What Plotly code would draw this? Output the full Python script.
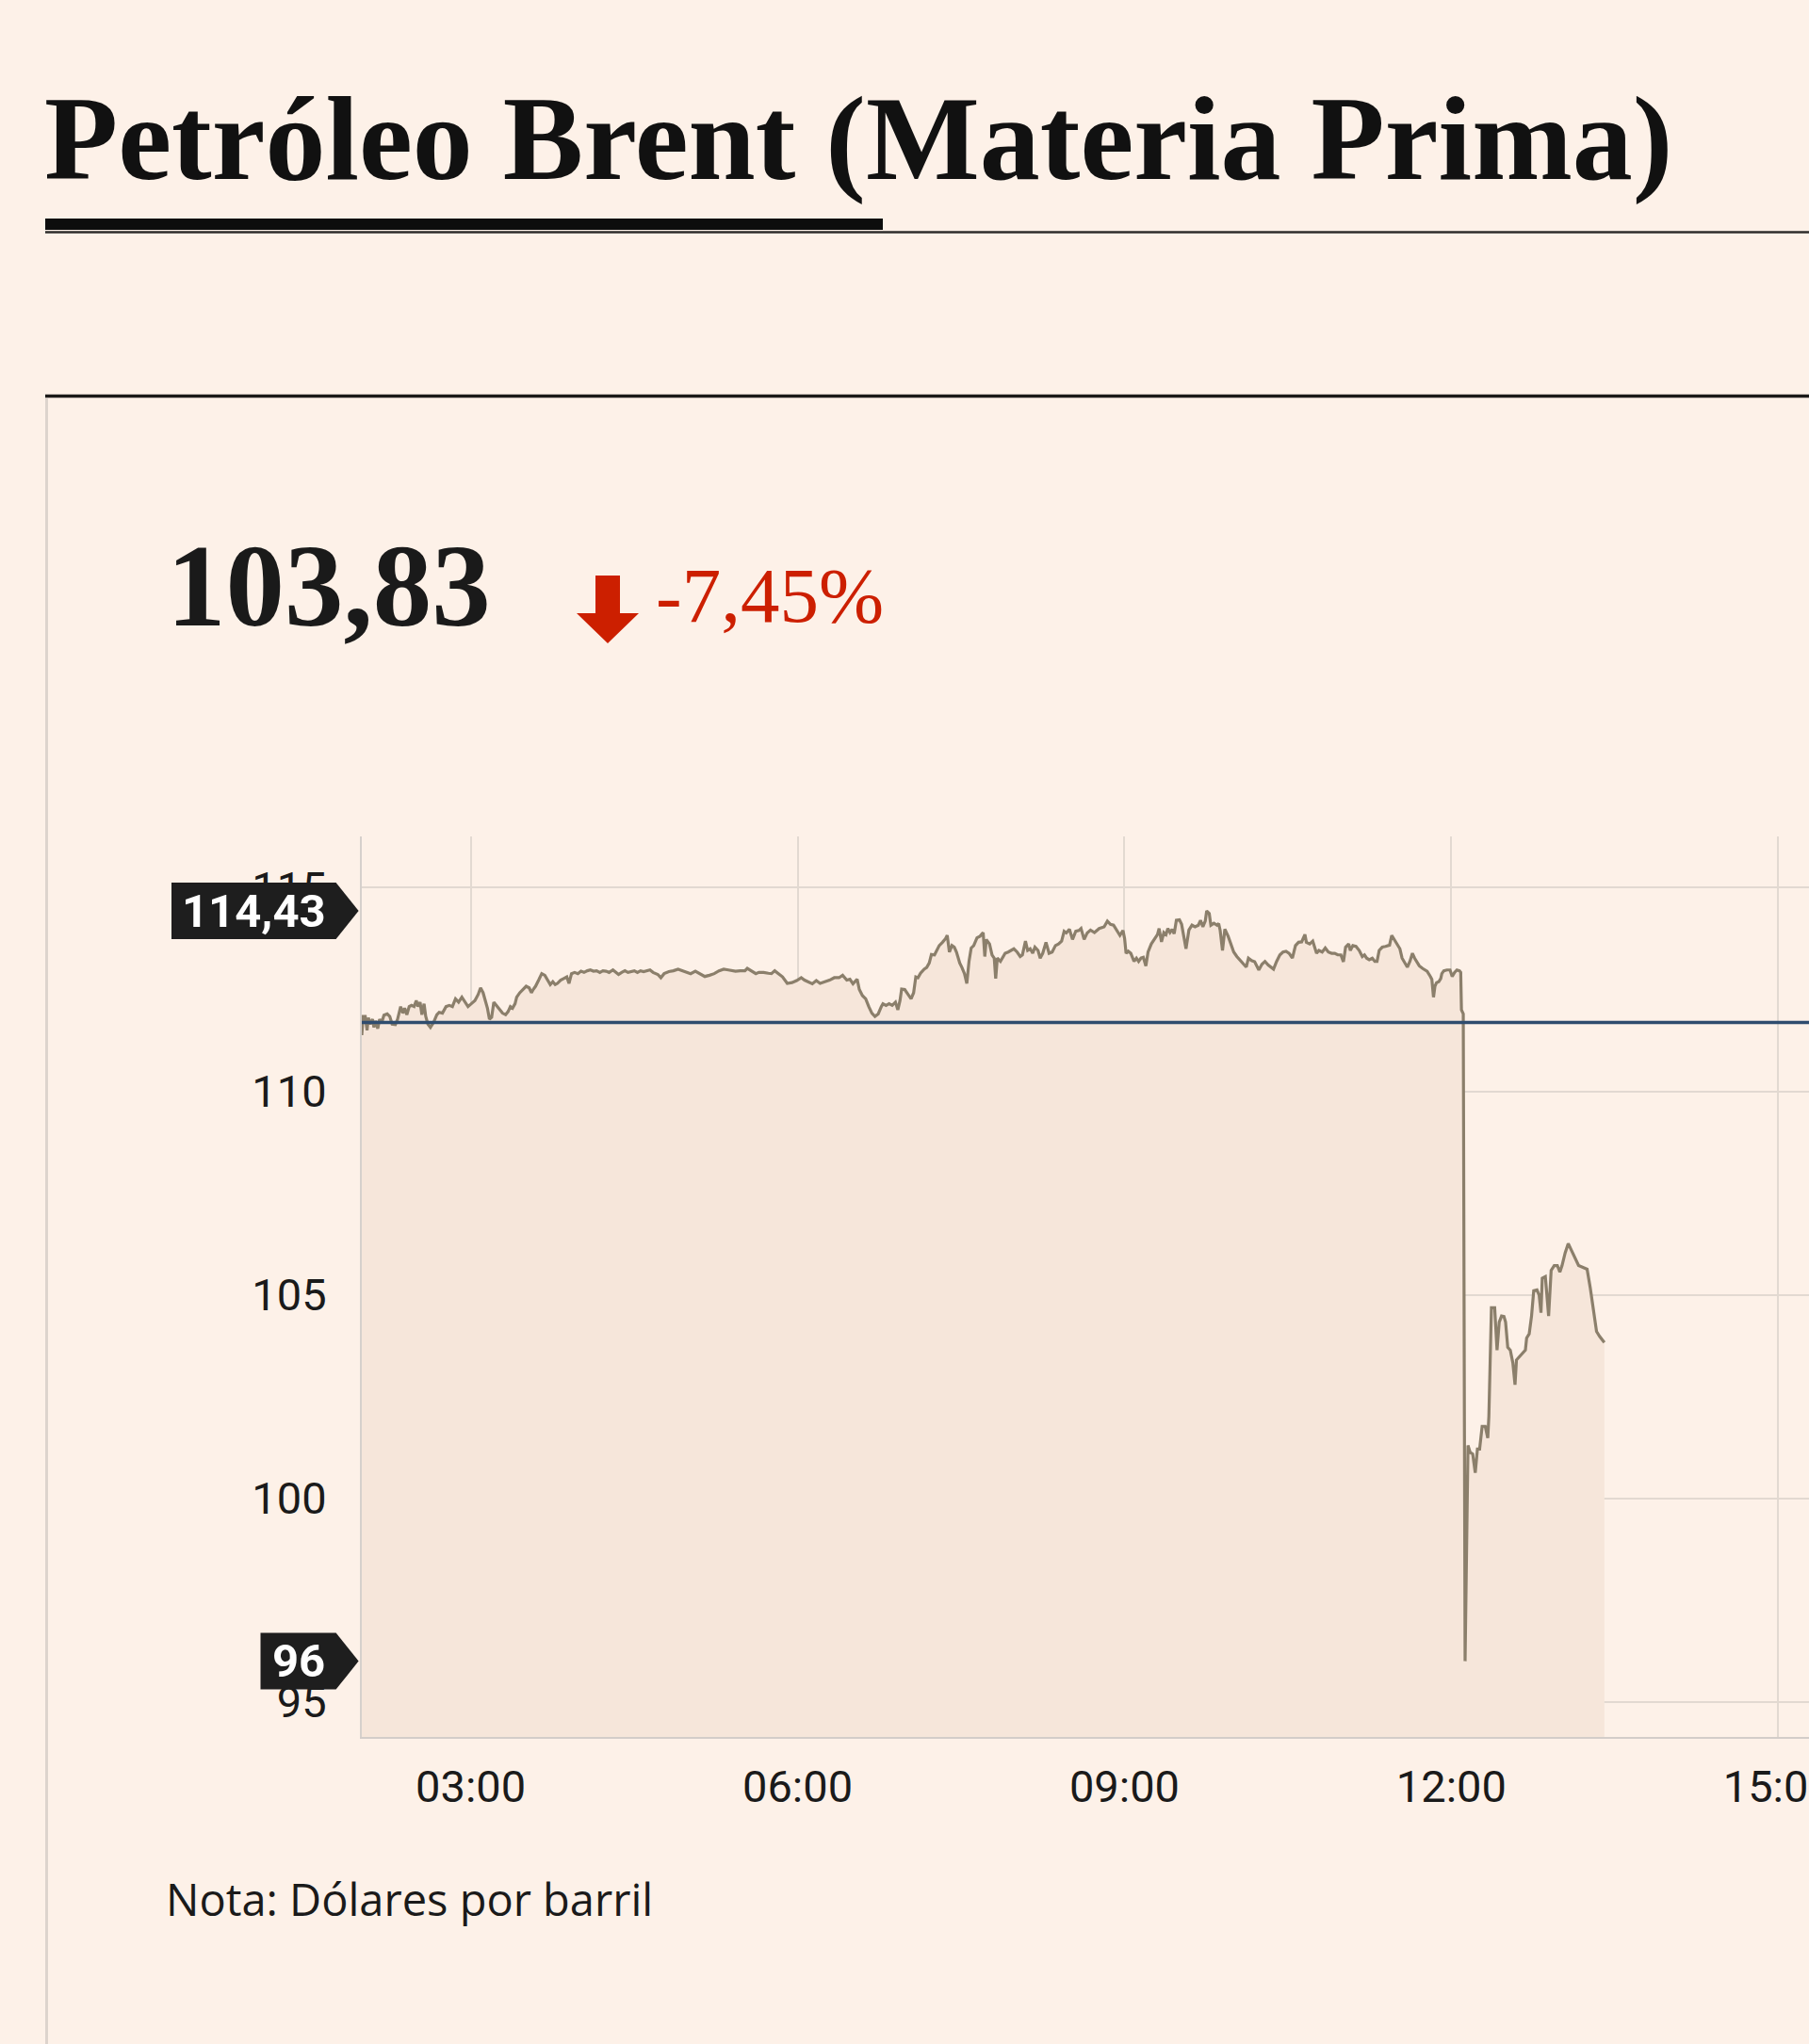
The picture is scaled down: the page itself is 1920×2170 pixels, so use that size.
import plotly.graph_objects as go

# ---------------- data ----------------
title_text = "Petróleo Brent (Materia Prima)"
note_text = "Nota: Dólares por barril"

# minutes since midnight
minutes = [
    120.0, 120.7, 121.9, 122.9, 123.6, 124.6, 125.9, 126.7, 127.6, 128.8, 129.8, 131.0, 132.2, 134.0,
    135.4, 136.7, 138.5, 139.7, 141.4, 142.6, 143.6, 144.8, 146.1, 147.4, 148.8, 150.0, 150.9, 152.1,
    153.1, 154.3, 155.2, 156.4, 157.8, 159.5, 161.3, 162.6, 164.4, 166.4, 168.2, 169.9, 171.6, 173.3,
    175.1, 176.8, 178.5, 180.3, 182.3, 184.1, 185.4, 186.8, 188.0, 189.2, 190.3, 191.5, 192.7, 194.1,
    195.8, 197.5, 199.2, 200.6, 201.8, 203.0, 204.4, 205.3, 207.0, 208.7, 210.5, 212.2, 213.4, 214.4,
    215.7, 217.4, 219.1, 220.8, 222.6, 223.8, 225.2, 226.5, 227.7, 229.5, 231.2, 232.9, 234.1, 235.5,
    237.2, 239.0, 240.7, 242.4, 244.2, 245.9, 247.6, 249.3, 251.1, 252.8, 254.5, 256.2, 258.3, 260.0,
    261.4, 263.1, 264.9, 266.6, 268.3, 270.1, 271.8, 273.5, 275.2, 277.0, 278.7, 280.4, 283.0, 284.7,
    286.5, 289.1, 291.6, 294.2, 296.8, 298.5, 301.1, 303.7, 306.3, 308.9, 311.5, 314.1, 316.7, 319.3,
    321.9, 324.5,
    325.8, 328.4, 331.0, 332.3, 334.4, 337.0, 338.7, 341.3, 343.9, 345.6, 347.4, 349.1, 351.7, 354.3,
    356.9, 359.5, 362.0, 363.8, 365.8, 368.1, 370.3, 372.4, 375.0, 377.6, 380.2, 382.8, 384.8, 387.1,
    388.8, 390.5, 392.8, 394.0, 395.7, 397.5, 399.2, 400.9, 402.6, 404.4, 406.1, 407.0, 408.7, 410.4,
    412.1, 413.9, 415.2, 416.4, 417.3, 419.0, 420.8, 422.5, 423.9, 425.1, 426.3, 427.7, 429.7, 431.1,
    432.5, 433.7, 435.4, 436.7, 438.0, 439.8, 441.5, 442.4, 443.6, 445.0, 446.3, 447.5, 449.3, 450.5,
    451.9, 453.2, 454.4, 455.6, 457.0, 458.8, 460.5, 462.2, 463.1, 463.9, 465.7, 467.1, 468.3, 469.1,
    470.0, 471.7, 472.9, 474.3, 476.0, 477.8, 479.1, 480.9, 482.6, 483.8, 485.5, 486.7, 488.1, 489.5,
    490.7, 492.4, 493.6, 495.0, 496.8, 498.5, 500.2, 502.0, 503.7, 505.4, 506.8, 508.0, 509.7, 511.4,
    513.2, 514.9, 516.1, 517.8, 519.5, 521.3, 523.5, 526.1,
    528.8, 530.6, 532.3, 534.0, 535.8, 537.5, 539.2, 540.1, 540.9, 542.1, 543.5, 545.3, 546.6, 547.8,
    549.1, 550.4, 551.8, 553.0, 554.8, 556.5, 558.2, 559.1, 560.4, 561.7, 562.9, 563.9, 565.1, 566.3,
    567.4, 568.6, 570.3, 571.5, 572.9, 573.9, 575.5, 577.2, 578.9, 580.7, 581.9, 583.2, 584.5, 585.3,
    586.7, 587.6, 589.3, 591.0, 591.9, 592.7, 594.0, 595.3, 597.1, 598.8, 600.2, 601.9, 603.6, 605.4,
    607.1, 608.3, 610.0, 611.7, 614.0, 615.7, 617.4, 619.2, 620.9, 622.1, 623.8, 625.6, 627.3, 629.0,
    630.7, 632.5, 634.2, 635.9, 637.6, 639.4, 640.2, 642.0, 643.7, 645.8, 647.1, 648.9, 650.6, 652.3,
    654.1, 655.8, 657.5, 659.2, 660.6, 661.8, 663.5, 664.4, 665.8, 667.5, 669.3, 671.0, 672.2, 673.4,
    674.8, 676.5, 677.9, 679.1, 680.3, 682.0, 683.8, 686.0, 687.2, 688.6, 690.3, 691.7, 692.9, 694.6,
    695.8, 697.2, 698.6, 699.8, 701.0, 702.4, 704.1, 705.5, 706.7, 708.5, 709.3, 710.2, 711.0, 711.9,
    713.1, 714.2, 714.8, 715.9, 717.6, 719.3, 720.5, 721.8, 723.1, 724.5, 725.2,
    725.6, 726.6, 727.6, 729.2,
    730.4, 731.8, 733.2, 734.4, 735.6, 737.0, 738.7, 740.1, 740.7, 742.1, 743.9, 745.2, 746.4, 747.7,
    749.0, 749.9, 751.1, 752.5, 753.9, 755.1, 755.9, 757.7, 759.4, 760.8, 761.5, 762.9, 764.2, 765.4,
    767.2, 768.4, 769.4, 770.1, 771.8, 772.9, 773.6, 775.0, 776.7, 778.4, 779.8, 781.0, 782.7, 784.4,
    786.2, 787.9, 790.1, 792.2, 794.8, 796.5, 798.3, 800.0, 801.7, 804.3,
]

prices = [
    111.38, 111.84, 111.84, 111.50, 111.81, 111.65, 111.77, 111.57, 111.73, 111.54, 111.77, 111.69, 111.87, 111.90,
    111.84, 111.65, 111.64, 111.77, 112.08, 111.92, 112.04, 111.88, 112.08, 112.11, 112.08, 112.23, 112.08, 112.19,
    111.88, 112.15, 111.84, 111.65, 111.57, 111.69, 111.88, 111.94, 111.92, 112.08, 112.11, 112.08, 112.27, 112.19,
    112.31, 112.19, 112.08, 112.15, 112.23, 112.38, 112.54, 112.42, 112.23, 112.04, 111.77, 111.82, 112.19, 112.11,
    112.00, 111.92, 111.88, 111.96, 112.08, 112.04, 112.15, 112.31, 112.42, 112.50, 112.58, 112.54, 112.42, 112.50,
    112.58, 112.73, 112.89, 112.85, 112.73, 112.62, 112.69, 112.62, 112.65, 112.73, 112.77, 112.81, 112.65, 112.89,
    112.92, 112.89, 112.95, 112.92, 112.96, 112.98, 112.95, 112.96, 112.92, 112.96, 112.95, 112.92, 112.98, 112.92,
    112.87, 112.92, 112.96, 112.92, 112.94, 112.96, 112.92, 112.96, 112.94, 112.96, 112.98, 112.92, 112.87, 112.79,
    112.89, 112.94, 112.96, 113.00, 112.96, 112.92, 112.89, 112.95, 112.89, 112.82, 112.85, 112.89, 112.96, 113.00,
    112.98, 112.95,
    112.95, 112.96, 112.96, 113.02, 112.96, 112.89, 112.92, 112.92, 112.90, 112.89, 112.96, 112.90, 112.81, 112.65,
    112.67, 112.72, 112.79, 112.73, 112.69, 112.64, 112.72, 112.65, 112.69, 112.73, 112.79, 112.79, 112.85, 112.73,
    112.75, 112.64, 112.75, 112.50, 112.35, 112.27, 112.08, 111.92, 111.84, 111.90, 112.08, 112.15, 112.11, 112.15,
    112.11, 112.19, 112.00, 112.23, 112.51, 112.50, 112.38, 112.27, 112.42, 112.81, 112.79, 112.90, 113.00, 113.04,
    113.15, 113.36, 113.35, 113.46, 113.58, 113.66, 113.75, 113.83, 113.42, 113.58, 113.54, 113.42, 113.15, 113.04,
    112.89, 112.65, 113.19, 113.52, 113.58, 113.77, 113.81, 113.90, 113.31, 113.73, 113.62, 113.35, 113.27, 112.77,
    113.27, 113.19, 113.27, 113.39, 113.42, 113.46, 113.50, 113.42, 113.31, 113.35, 113.69, 113.46, 113.50, 113.39,
    113.54, 113.46, 113.27, 113.39, 113.66, 113.39, 113.42, 113.58, 113.62, 113.69, 113.93, 113.89, 113.98, 113.73,
    113.93, 113.95, 114.00, 113.73, 113.89, 113.96, 113.90, 114.00,
    114.04, 114.18, 114.10, 114.08, 113.95, 113.83, 113.95, 113.75, 113.39, 113.44, 113.39, 113.19, 113.27, 113.19,
    113.27, 113.29, 113.08, 113.42, 113.62, 113.73, 113.85, 114.00, 113.67, 113.90, 113.85, 114.00, 113.90, 113.98,
    113.87, 114.20, 114.21, 114.10, 113.69, 113.50, 113.96, 114.08, 114.04, 114.08, 114.20, 114.04, 114.18, 114.43,
    114.37, 114.08, 114.13, 114.08, 114.12, 113.96, 113.46, 113.98, 113.81, 113.62, 113.42, 113.31, 113.23, 113.15,
    113.05, 113.27, 113.21, 113.18, 112.98, 113.12, 113.19, 113.10, 113.05, 113.00, 113.19, 113.35, 113.42, 113.44,
    113.39, 113.27, 113.58, 113.66, 113.67, 113.85, 113.66, 113.62, 113.69, 113.39, 113.46, 113.42, 113.52, 113.42,
    113.39, 113.39, 113.35, 113.35, 113.18, 113.54, 113.62, 113.46, 113.58, 113.56, 113.46, 113.31, 113.35, 113.27,
    113.23, 113.27, 113.19, 113.19, 113.46, 113.54, 113.56, 113.59, 113.83, 113.73, 113.62, 113.50, 113.27, 113.13,
    113.05, 113.19, 113.39, 113.27, 113.19, 113.08, 113.02, 112.98, 112.95, 112.82, 112.75, 112.31, 112.58, 112.67,
    112.69, 112.77, 112.89, 112.96, 112.98, 112.98, 112.82, 112.92, 112.98, 112.96, 112.92,
    112.00, 111.90, 96.00, 101.30,
    101.13, 101.09, 100.63, 101.21, 101.21, 101.77, 101.77, 101.48, 102.02, 104.68, 104.68, 103.64, 104.33, 104.48,
    104.47, 104.33, 103.71, 103.64, 103.33, 102.79, 103.40, 103.48, 103.56, 103.64, 103.94, 104.04, 104.48, 105.10,
    105.12, 104.99, 104.56, 105.41, 105.45, 104.95, 104.48, 105.60, 105.72, 105.72, 105.56, 105.72, 106.03, 106.26,
    106.10, 105.95, 105.72, 105.68, 105.63, 105.18, 104.64, 104.10, 103.98, 103.83,
]

reference_price = 111.69      # horizontal reference line
last_price = 103.83
change_pct = -7.45

y_tick_values = [95, 100, 105, 110, 115]
x_tick_minutes = [180, 360, 540, 720, 900]
x_tick_labels = ["03:00", "06:00", "09:00", "12:00", "15:00"]

# ---------------- layout constants ----------------
W, H = 1920, 2170
ML, MR, MT, MB = 384, 0, 888, 326
PW = W - ML - MR
PH = H - MT - MB
X_RANGE = [120, 917]
Y_RANGE = [94.14, 116.26]

BG = "#fdf1e8"
FILL = "#f6e6da"
LINE = "#8b7f6b"
INK = "#1a1a1a"
RED = "#cc1f00"


def px(xp):
    return (xp - ML) / PW


def py(yp):
    return (H - MB - yp) / PH


def vy(v):
    return (v - Y_RANGE[0]) / (Y_RANGE[1] - Y_RANGE[0])


def fmt(v):
    s = f"{v:.2f}".replace(".", ",")
    return s[:-3] if s.endswith(",00") else s


fig = go.Figure()
fig.add_trace(go.Scatter(
    x=minutes, y=prices, mode="lines",
    line=dict(color=LINE, width=3.2),
    fill="tozeroy", fillcolor=FILL,
    hoverinfo="skip", showlegend=False,
))

shapes = []
# header rules
shapes.append(dict(type="rect", xref="paper", yref="paper",
                   x0=px(48), x1=px(937), y0=py(244), y1=py(232),
                   fillcolor="#0d0d0d", line=dict(width=0), layer="above"))
shapes.append(dict(type="line", xref="paper", yref="paper",
                   x0=px(48), x1=px(1920), y0=py(246.5), y1=py(246.5),
                   line=dict(color="#2e2c2b", width=2.5), layer="above"))
shapes.append(dict(type="line", xref="paper", yref="paper",
                   x0=px(48), x1=px(1920), y0=py(420.5), y1=py(420.5),
                   line=dict(color="#1c1a19", width=3.5), layer="above"))
# card left border
shapes.append(dict(type="line", xref="paper", yref="paper",
                   x0=px(49.5), x1=px(49.5), y0=py(423), y1=py(2170),
                   line=dict(color="#ddd4cd", width=3), layer="above"))
# reference line
shapes.append(dict(type="line", xref="paper", yref="y",
                   x0=0, x1=1, y0=reference_price, y1=reference_price,
                   line=dict(color="#2f4c6e", width=3.5), layer="above"))

# down arrow next to the change
ax_c, ay_top, ay_sh, ay_tip = 645, 611, 651, 683
arrow = (f"M {px(ax_c-13)},{py(ay_top)} L {px(ax_c+13)},{py(ay_top)} "
         f"L {px(ax_c+13)},{py(ay_sh)} L {px(ax_c+33)},{py(ay_sh)} "
         f"L {px(ax_c)},{py(ay_tip)} L {px(ax_c-33)},{py(ay_sh)} "
         f"L {px(ax_c-13)},{py(ay_sh)} Z")
shapes.append(dict(type="path", xref="paper", yref="paper", path=arrow,
                   fillcolor=RED, line=dict(width=0), layer="above"))

annotations = []


def flag(value, x_left):
    ym = vy(value)
    half = 30 / PH
    x_right, x_tip = px(356.6), px(380.6)
    xl = px(x_left)
    path = (f"M {xl},{ym-half} L {x_right},{ym-half} L {x_tip},{ym} "
            f"L {x_right},{ym+half} L {xl},{ym+half} Z")
    shapes.append(dict(type="path", xref="paper", yref="paper", path=path,
                       fillcolor="#1e1e1e", line=dict(width=0), layer="above"))
    annotations.append(dict(xref="paper", yref="paper", x=(xl + x_right) / 2, y=ym,
                            xanchor="center", yanchor="middle", showarrow=False,
                            text=fmt(value),
                            font=dict(family="Roboto", size=49, color="white", weight="bold")))


flag(max(prices), 182)
flag(min(prices), 276.5)

annotations.append(dict(xref="paper", yref="paper", x=px(45), y=py(147),
                        xanchor="left", yanchor="middle", showarrow=False,
                        text=title_text,
                        font=dict(family="Liberation Serif", size=128, color="#111111",
                                  weight="bold")))
annotations.append(dict(xref="paper", yref="paper", x=px(175), y=py(622),
                        xanchor="left", yanchor="middle", showarrow=False,
                        text=fmt(last_price),
                        font=dict(family="Liberation Serif", size=125, color="#1a1a1a",
                                  weight="bold")))
annotations.append(dict(xref="paper", yref="paper", x=px(694), y=py(632),
                        xanchor="left", yanchor="middle", showarrow=False,
                        text=f"{change_pct:.2f}%".replace(".", ","),
                        font=dict(family="Liberation Serif", size=83, color=RED)))
annotations.append(dict(xref="paper", yref="paper", x=px(174), y=py(2016),
                        xanchor="left", yanchor="middle", showarrow=False,
                        text=note_text,
                        font=dict(family="Open Sans", size=47, color=INK)))

fig.update_layout(
    width=W, height=H,
    margin=dict(l=ML, r=MR, t=MT, b=MB, pad=0),
    paper_bgcolor=BG, plot_bgcolor=BG,
    shapes=shapes, annotations=annotations,
    showlegend=False,
    font=dict(family="Roboto", color=INK),
)
fig.update_xaxes(
    range=X_RANGE, tickvals=x_tick_minutes, ticktext=x_tick_labels,
    showgrid=True, gridcolor="#e2d9d1", gridwidth=2,
    showline=True, linecolor="#d3cdc9", linewidth=2,
    zeroline=False, ticks="", ticklabelstandoff=11,
    ticklabeloverflow="allow",
    tickfont=dict(family="Roboto", size=47, color=INK),
    automargin=False, fixedrange=True,
)
fig.update_yaxes(
    range=Y_RANGE, tickvals=y_tick_values,
    showgrid=True, gridcolor="#e2d9d1", gridwidth=2,
    showline=True, linecolor="#d6d0cc", linewidth=2,
    zeroline=False, ticks="", ticklabelstandoff=26,
    tickfont=dict(family="Roboto", size=47, color=INK),
    automargin=False, fixedrange=True,
)

fig.write_html("out.html", config=dict(displayModeBar=False))
